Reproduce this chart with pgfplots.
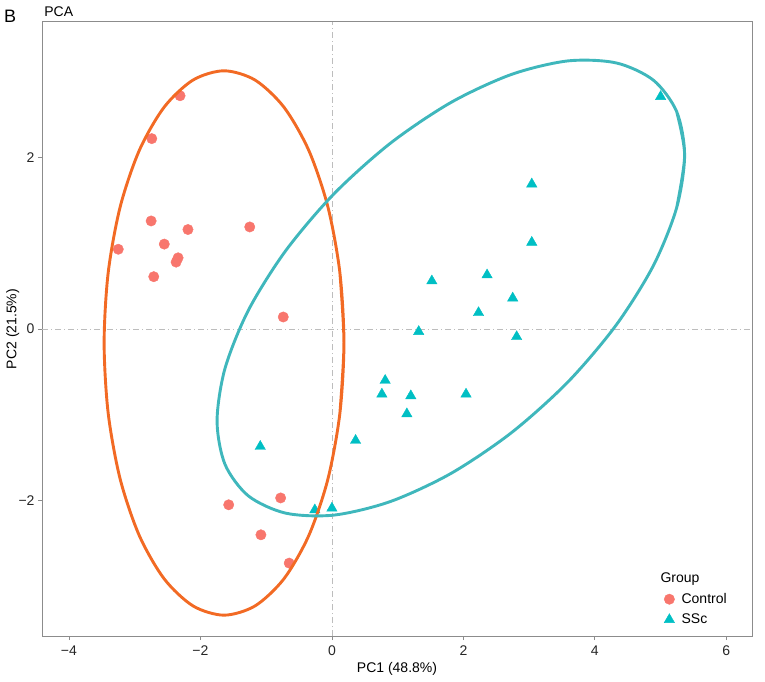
\documentclass[border=0pt]{standalone}
\usepackage{pgfplots}
\pgfplotsset{compat=1.18}
\usepackage{fontspec}
\setmainfont{Liberation Sans}
\definecolor{ctrl}{HTML}{F8766D}
\definecolor{ssc}{HTML}{00BFC4}
\definecolor{ctrlell}{HTML}{F26A24}
\definecolor{sscell}{HTML}{3FB7BC}
\definecolor{frame}{HTML}{8C8C8C}
\definecolor{zero}{HTML}{BDBDBD}
\newcommand{\fs}{\fontsize{14pt}{16pt}\selectfont}
\begin{document}
\begin{tikzpicture}[font=\fs]
\path[use as bounding box] (-42pt,-45pt) rectangle (723pt,636pt);
\begin{axis}[
  at={(0,0)}, anchor=south west,
  width=710pt, height=614pt, scale only axis,
  xmin=-4.41, xmax=6.39, ymin=-3.58, ymax=3.58,
  xtick={-4,-2,0,2,4,6}, xticklabels={−4,−2,0,2,4,6},
  ytick={-2,0,2}, yticklabels={−2,0,2},
  tick pos=left, tick align=outside, major tick length=4pt,
  tick style={frame, line width=0.8pt},
  axis line style={frame, line width=1pt},
  ticklabel style={font=\fs, text=black!85},
  xticklabel style={yshift=-2pt},
  xlabel={PC1 (48.8\%)}, ylabel={PC2 (21.5\%)},
  label style={font=\fs},
  xlabel style={at={(axis description cs:0.5,-0.053)}, anchor=center},
  ylabel style={at={(axis description cs:-0.0412,0.5)}, anchor=center},
  legend style={draw=none, fill=none, at={(axis description cs:0.8713,0.106)}, anchor=north west, row sep=5pt, font=\fs, inner sep=0pt,
    /tikz/every odd column/.append style={column sep=5pt}},
  legend cell align=left,
  clip mode=individual,
]
\addlegendimage{empty legend}
\addlegendentry{\hspace{-21pt}Group}

\addplot[zero, line width=0.8pt, dash pattern=on 6pt off 3pt on 1pt off 3pt, forget plot] coordinates {(0,-3.58) (0,3.58)};
\addplot[zero, line width=0.8pt, dash pattern=on 6pt off 3pt on 1pt off 3pt, forget plot] coordinates {(-4.41,0) (6.39,0)};

\addplot[only marks, mark=*, mark size=5.2pt, color=ctrl, mark options={solid, draw=ctrl, fill=ctrl}] coordinates {
(-2.31,2.72) (-2.74,2.22) (-3.25,0.93) (-2.75,1.26) (-2.55,0.99)
(-2.19,1.16) (-2.34,0.83) (-2.37,0.78) (-2.71,0.61) (-1.25,1.19)
(-0.74,0.14) (-1.57,-2.05) (-0.78,-1.97) (-1.08,-2.40) (-0.65,-2.73)
};
\addlegendentry{Control}

\addplot[only marks, mark=triangle*, mark size=6pt, color=ssc, mark options={solid, draw=ssc, fill=ssc}] coordinates {
(5.00,2.71) (3.04,1.69) (3.04,1.01) (2.36,0.63) (2.75,0.36)
(2.23,0.19) (2.81,-0.09) (1.52,0.56) (1.32,-0.03) (0.81,-0.60)
(0.76,-0.76) (1.20,-0.78) (1.14,-0.99) (2.04,-0.76) (0.36,-1.30)
(-1.09,-1.37) (-0.26,-2.11) (0.00,-2.09)
};
\addlegendentry{SSc}

\addplot[ctrlell, line width=2.9pt, smooth, forget plot] coordinates {
(0.121,-0.984) (0.183,-0.163) (0.121,0.658) (-0.061,1.424) (-0.351,2.081) (-0.729,2.586)
(-1.169,2.903) (-1.641,3.011) (-2.113,2.903) (-2.553,2.586) (-2.931,2.081)
(-3.221,1.424) (-3.403,0.658) (-3.465,-0.163) (-3.403,-0.984) (-3.221,-1.750)
(-2.931,-2.407) (-2.553,-2.912) (-2.113,-3.229) (-1.641,-3.337) (-1.169,-3.229)
(-0.729,-2.912) (-0.351,-2.407) (-0.061,-1.750) (0.121,-0.984) (0.183,-0.163) (0.121,0.658)
};

\addplot[sscell, line width=2.9pt, smooth, forget plot] coordinates {
(5.244,1.415) (5.365,2.028) (5.244,2.535) (4.889,2.902) (4.323,3.103) (3.587,3.126)
(2.729,2.968) (1.809,2.641) (0.889,2.166) (0.031,1.576) (-0.705,0.911)
(-1.271,0.218) (-1.626,-0.459) (-1.747,-1.072) (-1.626,-1.579) (-1.271,-1.946)
(-0.705,-2.147) (0.031,-2.170) (0.889,-2.012) (1.809,-1.685) (2.729,-1.210)
(3.587,-0.620) (4.323,0.045) (4.889,0.738) (5.244,1.415) (5.365,2.028) (5.244,2.535)
};

\node[font=\fs, anchor=west, inner sep=0pt] at (axis description cs:0.003,1.0163) {PCA};
\node[font=\fontsize{18pt}{20pt}\selectfont, anchor=center, inner sep=0pt] at (axis description cs:-0.045,1.0098) {B};
\end{axis}
\end{tikzpicture}
\end{document}
